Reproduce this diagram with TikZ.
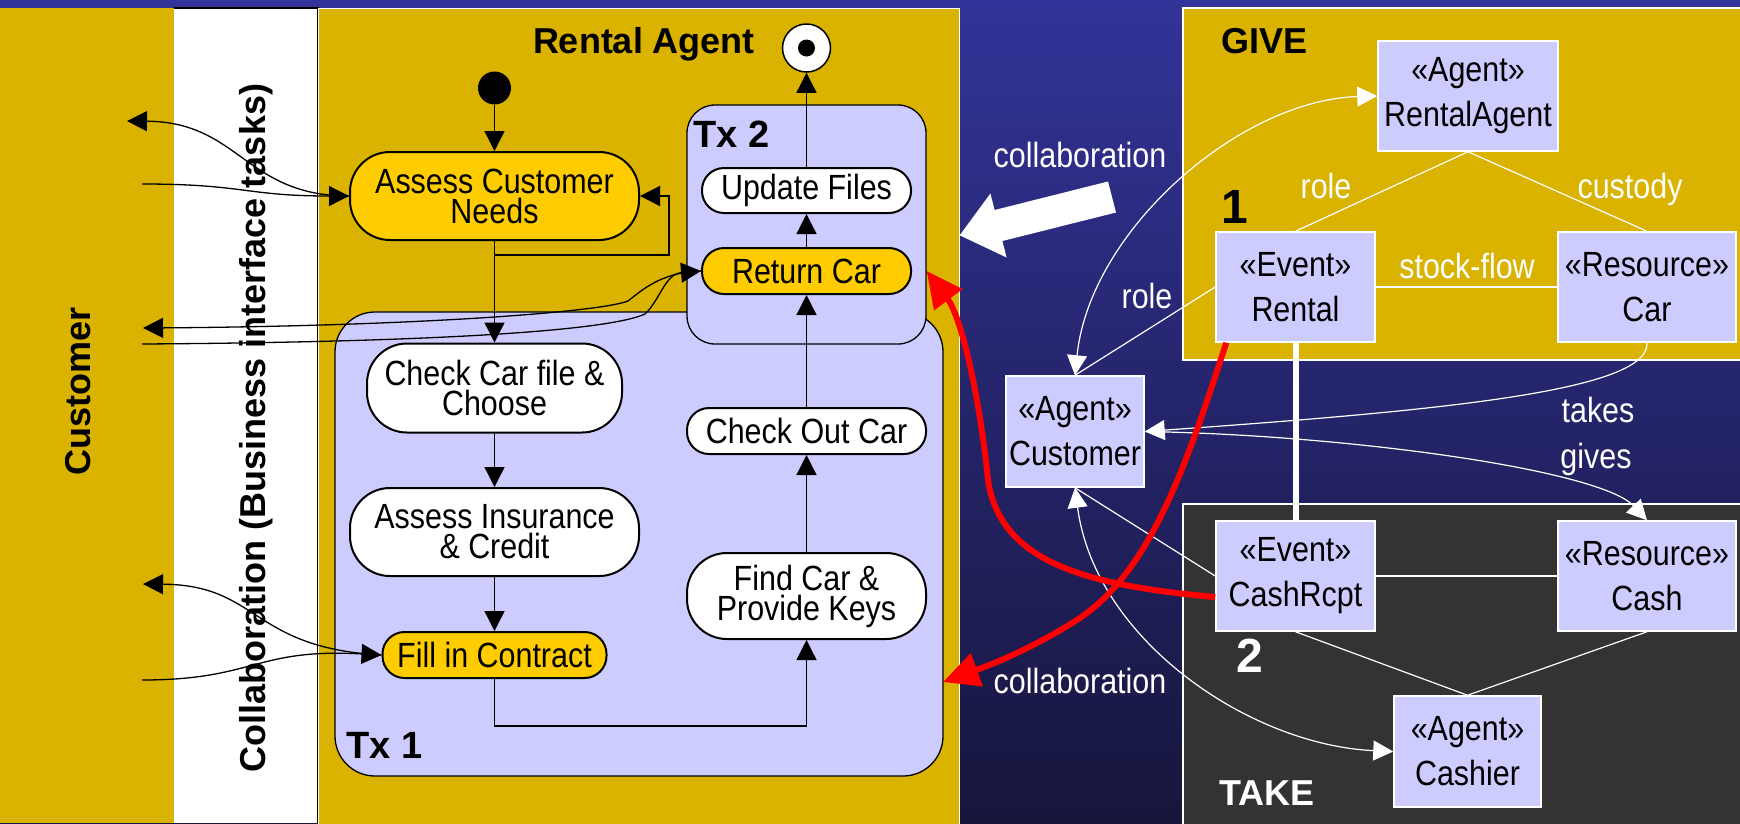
\documentclass[tikz,border=0pt]{standalone}
\usepackage{fontspec}
\setmainfont{Liberation Sans}
\newfontfamily\narrowfont[FakeStretch=0.87]{Liberation Sans}
\usetikzlibrary{arrows.meta}
\definecolor{lanegold}{HTML}{DAB200}
\definecolor{actgold}{HTML}{FFCC00}
\definecolor{lav}{HTML}{CCCCFF}
\definecolor{takegray}{HTML}{333333}
\definecolor{bgtop}{HTML}{333399}
\definecolor{bgbot}{HTML}{16163C}
\newcommand{\actfont}{\narrowfont\fontsize{35}{30}\selectfont}
\newcommand{\reafont}{\narrowfont\fontsize{35}{45}\selectfont}
\newcommand{\lblfont}{\bfseries\fontsize{36}{40}\selectfont}
\newcommand{\numfont}{\bfseries\fontsize{48}{50}\selectfont}
\begin{document}
\begin{tikzpicture}[x=1pt,y=-1pt,
  act/.style={draw=black,line width=2pt,fill=white,align=center,font=\actfont,inner sep=0pt},
  actg/.style={act,fill=actgold},
  txbox/.style={draw=black,line width=1.3pt,fill=lav,inner sep=0pt},
  rea/.style={draw=white,line width=1.5pt,fill=lav,align=center,font=\reafont,inner sep=0pt},
  arr/.style={draw=black,line width=1.3pt,-{Triangle[length=20pt,width=20pt]}},
  wline/.style={draw=white,line width=1.2pt},
  warr/.style={wline,-{Triangle[length=20pt,width=20pt]}},
  wdarr/.style={wline,{Triangle[length=20pt,width=20pt]}-{Triangle[length=20pt,width=20pt]}},
  redarr/.style={draw=red,line width=6pt,-{Triangle[length=36pt,width=34pt]}},
  wlbl/.style={text=white,font=\actfont,inner sep=0pt,anchor=base},
  blbl/.style={font=\lblfont,inner sep=0pt}
]
\useasboundingbox (0,0) rectangle (1740,823);
% background
\shade[top color=bgtop,bottom color=bgbot] (0,0) rectangle (1740,823);
% swim lanes
\fill[lanegold] (0,8) rectangle (174,823);
\fill[white] (174,8) rectangle (318,823);
\draw[black,line width=1.3pt] (174,8) -- (318,8) -- (318,823);
\draw[white,line width=1pt,fill=lanegold] (318.6,8) rectangle (959,830);
% GIVE / TAKE boxes
\draw[white,line width=1.5pt,fill=lanegold] (1183,8) rectangle (1750,360);
\draw[white,line width=1.5pt,fill=takegray] (1183,504) rectangle (1750,840);
% lane titles
\node[blbl,rotate=90] (custlbl) at (78,391) {Customer};
\node[blbl,rotate=90] (collbl) at (256,428) {Collaboration (Business interface tasks)};
\node[blbl,anchor=base] (ralbl) at (644,53) {Rental Agent};
\node[blbl,anchor=base west] (givelbl) at (1221,53) {GIVE};
\node[blbl,anchor=base west,text=white] (takelbl) at (1219,805) {TAKE};
% transaction boxes
\node[txbox,minimum width=608pt,minimum height=464pt,rounded corners=40pt] (tx1) at (639,544) {};
\node[txbox,minimum width=239pt,minimum height=239pt,rounded corners=28pt] (tx2) at (806.5,224.5) {};
\node[blbl,anchor=base west,font=\bfseries\fontsize{38}{40}\selectfont] (tx1lbl) at (346,758) {Tx 1};
\node[blbl,anchor=base west,font=\bfseries\fontsize{38}{40}\selectfont] (tx2lbl) at (693,147) {Tx 2};
% start / end
\node[circle,fill=black,minimum size=33pt,inner sep=0pt] (start) at (494.5,88) {};
\node[circle,draw=black,line width=1.5pt,fill=white,minimum size=48pt,inner sep=0pt] (end) at (806.5,48) {};
\node[circle,fill=black,minimum size=17pt,inner sep=0pt] (enddot) at (end.center) {};
% activities
\node[actg,minimum width=289pt,minimum height=88pt,rounded corners=40pt] (ACN) at (494.5,196) {Assess Customer\\Needs};
\node[act,minimum width=255pt,minimum height=89pt,rounded corners=40pt] (CCF) at (494.5,388) {Check Car file \&\\Choose};
\node[act,minimum width=289pt,minimum height=88pt,rounded corners=40pt] (AIC) at (494.5,532) {Assess Insurance\\\& Credit};
\node[actg,minimum width=224pt,minimum height=46pt,rounded corners=22pt] (FIC) at (494.5,655) {Fill in Contract};
\node[act,minimum width=209pt,minimum height=45pt,rounded corners=22pt] (UF) at (806.5,190.5) {Update Files};
\node[actg,minimum width=209pt,minimum height=46pt,rounded corners=22pt] (RC) at (806.5,271) {Return Car};
\node[act,minimum width=239pt,minimum height=46pt,rounded corners=22pt] (COC) at (806.5,431) {Check Out Car};
\node[act,minimum width=239pt,minimum height=86pt,rounded corners=40pt] (FCK) at (806.5,596) {Find Car \&\\Provide Keys};
% activity flow
\draw[arr] (start) -- (ACN);
\draw[arr] (ACN) -- (CCF);
\coordinate (lp) at (494.5,255);
\coordinate (lpc) at (669,196);
\draw[arr] (lp) -| (lpc) -- (ACN.east);
\draw[arr] (CCF) -- (AIC);
\draw[arr] (AIC) -- (FIC);
\draw[arr] (FIC.south) -- ++(0,47) -| (FCK.south);
\draw[arr] (FCK) -- (COC);
\draw[arr] (COC) -- (RC);
\draw[arr] (RC) -- (UF);
\draw[arr] (UF) -- (end);
% collaboration with customer lane
\coordinate (co1) at (127,121);
\coordinate (ci1) at (142,184);
\coordinate (co2) at (143,328);
\coordinate (ci2) at (142,344);
\coordinate (co3) at (143,584);
\coordinate (ci3) at (142,680);
\draw[arr] (ACN.west) .. controls (245,196) and (240,122) .. (co1);
\draw[arr] (ci1) .. controls (245,184) and (245,196) .. (ACN.west);
\draw[arr] (RC.west) .. controls (660,272) and (640,292) .. (628,301) .. controls (600,312) and (420,326) .. (co2);
\draw[arr] (ci2) .. controls (450,342) and (610,330) .. (645,314) .. controls (660,300) and (665,274) .. (RC.west);
\draw[arr] (FIC.west) .. controls (250,648) and (260,585) .. (co3);
\draw[arr] (ci3) .. controls (255,680) and (255,648) .. (FIC.west);
% REA nodes
\node[rea,minimum width=180pt,minimum height=110pt] (RA) at (1468,96) {«Agent»\\RentalAgent};
\node[rea,minimum width=159pt,minimum height=110pt] (Rental) at (1295.5,287) {«Event»\\Rental};
\node[rea,minimum width=178pt,minimum height=110pt] (Car) at (1647,287) {«Resource»\\Car};
\node[rea,minimum width=138pt,minimum height=111pt] (Cust) at (1075,431.5) {«Agent»\\Customer};
\node[rea,minimum width=159pt,minimum height=110pt] (CashRcpt) at (1295.5,576) {«Event»\\CashRcpt};
\node[rea,minimum width=178pt,minimum height=110pt] (Cash) at (1647,576) {«Resource»\\Cash};
\node[rea,minimum width=147pt,minimum height=111pt] (Cashier) at (1467.5,751.5) {«Agent»\\Cashier};
% REA connectors
\draw[wline] (RA.south) -- (Rental.north);
\draw[wline] (RA.south) -- (Car.north);
\draw[wline] (Rental.east) -- (Car.west);
\draw[wline] (CashRcpt.east) -- (Cash.west);
\draw[wline] (CashRcpt.south) -- (Cashier.north);
\draw[wline] (Cash.south) -- (Cashier.north);
\draw[white,line width=6pt] (Rental.south) -- (CashRcpt.north);
\draw[wline] (Cust.north) -- (Rental.west);
\draw[wline] (Cust.south) -- (CashRcpt.west);
\draw[wdarr] (Cust.north) .. controls (1090,230) and (1240,100) .. (RA.west);
\draw[wdarr] (Cust.south) .. controls (1095,640) and (1250,745) .. (Cashier.west);
\draw[warr] (Car.south) .. controls (1650,390) and (1450,410) .. (Cust.east);
\draw[warr] (Cust.east) .. controls (1350,435) and (1600,470) .. (Cash.north);
% REA labels
\node[wlbl] (lcol1) at (1080,167) {collaboration};
\node[wlbl] (lcol2) at (1080,693) {collaboration};
\node[wlbl] (lrole1) at (1147,308) {role};
\node[wlbl] (lrole2) at (1326,198) {role};
\node[wlbl] (lcust) at (1630,198) {custody};
\node[wlbl] (lsf) at (1467,278) {stock-flow};
\node[wlbl] (ltakes) at (1598,422) {takes};
\node[wlbl] (lgives) at (1596,468) {gives};
\node[font=\numfont,anchor=base west,inner sep=0pt] (n1) at (1221,223) {1};
\node[font=\numfont,anchor=base west,inner sep=0pt,text=white] (n2) at (1236,672) {2};
% big white collaboration arrow
\fill[white] (1116,212.5) -- (1002.4,241) -- (1006.6,257.5) -- (959.7,235.3) -- (990.4,193.5) -- (994.6,210) -- (1108,181.5) -- cycle;
% red arrows
\coordinate (r1s) at ([yshift=-21pt]CashRcpt.west);
\coordinate (r1e) at (tx2.east |- RC.east);
\coordinate (r2s) at ([xshift=11pt]Rental.south west);
\coordinate (r2e) at (943,682);
\draw[redarr] (r1s) .. controls (1080,585) and (1000,560) .. (988,480) .. controls (980,400) and (962,318) .. (r1e);
\draw[redarr] (r2s) .. controls (1185,470) and (1150,570) .. (1080,618) .. controls (1030,650) and (990,665) .. (r2e);
\end{tikzpicture}
\end{document}
